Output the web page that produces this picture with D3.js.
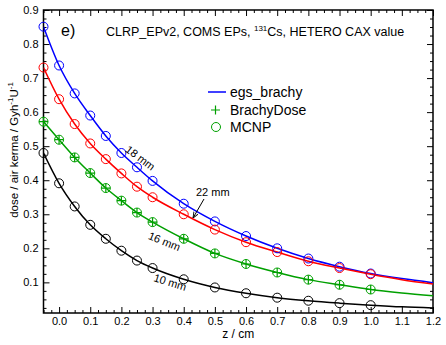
<!DOCTYPE html>
<html>
<head>
<meta charset="utf-8">
<script src="https://cdn.jsdelivr.net/npm/d3@7"></script>
<style>
  body { margin: 0; background: #fff; }
  text { font-family: "Liberation Sans", Arial, sans-serif; }
</style>
</head>
<body>
<div id="chart"></div>
<script>
// depth points (cm) for the markers
const zPoints = [-0.05, 0, 0.05, 0.1, 0.15, 0.2, 0.25, 0.3, 0.4, 0.5, 0.6, 0.7, 0.8, 0.9, 1.0];
// depth points for the egs_brachy lines (run to the end of the axis)
const zLine = [-0.05, 0, 0.05, 0.1, 0.15, 0.2, 0.25, 0.3, 0.4, 0.5, 0.6, 0.7, 0.8, 0.9, 1.0, 1.1, 1.2];

// MCNP values (circles)
const mcnp18 = [0.851, 0.737, 0.655, 0.590, 0.530, 0.480, 0.438, 0.398, 0.331, 0.279, 0.236, 0.200, 0.170, 0.146, 0.126];
const mcnp22 = [0.731, 0.638, 0.565, 0.508, 0.462, 0.420, 0.381, 0.350, 0.300, 0.255, 0.218, 0.189, 0.162, 0.142, 0.124];
const mcnp16 = [0.572, 0.519, 0.467, 0.421, 0.377, 0.340, 0.305, 0.277, 0.228, 0.185, 0.154, 0.129, 0.108, 0.093, 0.079];
const mcnp10 = [0.480, 0.391, 0.323, 0.269, 0.228, 0.193, 0.164, 0.142, 0.109, 0.085, 0.068, 0.055, 0.046, 0.039, 0.033];

// BrachyDose values (plus), only given for 16 mm
const brachyDose16 = [0.572, 0.519, 0.467, 0.421, 0.377, 0.340, 0.305, 0.277, 0.228, 0.185, 0.154, 0.129, 0.108, 0.093, 0.079];

// egs_brachy lines
const egs18 = [0.851, 0.737, 0.655, 0.590, 0.530, 0.480, 0.438, 0.398, 0.331, 0.279, 0.236, 0.200, 0.170, 0.146, 0.126, 0.111, 0.099];
const egs22 = [0.731, 0.638, 0.565, 0.508, 0.462, 0.420, 0.381, 0.350, 0.300, 0.255, 0.218, 0.189, 0.162, 0.142, 0.124, 0.108, 0.095];
const egs16 = [0.572, 0.519, 0.467, 0.421, 0.377, 0.340, 0.305, 0.277, 0.228, 0.185, 0.154, 0.129, 0.108, 0.093, 0.079, 0.069, 0.061];
const egs10 = [0.480, 0.391, 0.323, 0.269, 0.228, 0.193, 0.164, 0.142, 0.109, 0.085, 0.068, 0.055, 0.046, 0.039, 0.033, 0.028, 0.025];

const xTicks = [0.0, 0.1, 0.2, 0.3, 0.4, 0.5, 0.6, 0.7, 0.8, 0.9, 1.0, 1.1, 1.2];
const yTicks = [0.1, 0.2, 0.3, 0.4, 0.5, 0.6, 0.7, 0.8, 0.9];

const series = [
  { name: "18 mm", color: "#0000ff", egs: egs18, mcnp: mcnp18, bd: null },
  { name: "22 mm", color: "#ff0000", egs: egs22, mcnp: mcnp22, bd: null },
  { name: "16 mm", color: "#00a000", egs: egs16, mcnp: mcnp16, bd: brachyDose16 },
  { name: "10 mm", color: "#000000", egs: egs10, mcnp: mcnp10, bd: null }
];

const width = 446, height = 345;
const padLeft = 43.5, padRight = 433, padTop = 10, padBottom = 313;

const svg = d3.select("#chart").append("svg")
  .attr("width", width).attr("height", height);

const x = d3.scaleLinear().domain([-0.05, 1.2]).range([padLeft, padRight]);
const y = d3.scaleLinear().domain([0.01, 0.9]).range([padBottom, padTop]);

// minor tick values
const xMinor = d3.range(-0.05, 1.2001, 0.025).map(v => +v.toFixed(3)).filter(v => !xTicks.some(t => Math.abs(t - v) < 1e-6));
const yMinor = d3.range(0.025, 0.9001, 0.025).map(v => +v.toFixed(3)).filter(v => !yTicks.some(t => Math.abs(t - v) < 1e-6));

function styleAxis(g) {
  g.select(".domain").remove();
  g.selectAll("line").attr("stroke", "#000").attr("stroke-width", 1);
  g.selectAll("text").attr("font-size", 11).attr("fill", "#000")
    .style("font-family", "'Liberation Sans', Arial, sans-serif");
}

// bottom / top major + minor
svg.append("g").attr("transform", `translate(0,${padBottom})`)
  .call(d3.axisBottom(x).tickValues(xTicks).tickFormat(d3.format(".1f")).tickSize(-6).tickPadding(4))
  .call(styleAxis);
svg.append("g").attr("transform", `translate(0,${padBottom})`)
  .call(d3.axisBottom(x).tickValues(xMinor).tickFormat("").tickSize(-3))
  .call(styleAxis);
svg.append("g").attr("transform", `translate(0,${padTop})`)
  .call(d3.axisTop(x).tickValues(xTicks).tickFormat("").tickSize(-6))
  .call(styleAxis);
svg.append("g").attr("transform", `translate(0,${padTop})`)
  .call(d3.axisTop(x).tickValues(xMinor).tickFormat("").tickSize(-3))
  .call(styleAxis);

// left / right major + minor
svg.append("g").attr("transform", `translate(${padLeft},0)`)
  .call(d3.axisLeft(y).tickValues(yTicks).tickFormat(d3.format(".1f")).tickSize(-6).tickPadding(5))
  .call(styleAxis);
svg.append("g").attr("transform", `translate(${padLeft},0)`)
  .call(d3.axisLeft(y).tickValues(yMinor).tickFormat("").tickSize(-3))
  .call(styleAxis);
svg.append("g").attr("transform", `translate(${padRight},0)`)
  .call(d3.axisRight(y).tickValues(yTicks).tickFormat("").tickSize(-6))
  .call(styleAxis);
svg.append("g").attr("transform", `translate(${padRight},0)`)
  .call(d3.axisRight(y).tickValues(yMinor).tickFormat("").tickSize(-3))
  .call(styleAxis);

// frame
svg.append("rect")
  .attr("x", padLeft).attr("y", padTop)
  .attr("width", padRight - padLeft).attr("height", padBottom - padTop)
  .attr("fill", "none").attr("stroke", "#000").attr("stroke-width", 1.5);

// clip for the curves
svg.append("clipPath").attr("id", "plotclip")
  .append("rect").attr("x", padLeft).attr("y", padTop).attr("width", padRight - padLeft).attr("height", padBottom - padTop);

const line = d3.line()
  .x(d => x(d[0]))
  .y(d => y(d[1]))
  .curve(d3.curveMonotoneX);

const plot = svg.append("g");

// egs_brachy lines
series.forEach(s => {
  plot.append("path")
    .datum(zLine.map((z, i) => [z, s.egs[i]]))
    .attr("fill", "none")
    .attr("stroke", s.color)
    .attr("stroke-width", 1.5)
    .attr("clip-path", "url(#plotclip)")
    .attr("d", line);
});

// MCNP circles
series.forEach(s => {
  plot.selectAll(null)
    .data(zPoints.map((z, i) => [z, s.mcnp[i]]))
    .enter().append("circle")
    .attr("cx", d => x(d[0]))
    .attr("cy", d => y(d[1]))
    .attr("r", 4.5)
    .attr("fill", "none")
    .attr("stroke", s.color)
    .attr("stroke-width", 1);
});

// BrachyDose plus markers
series.filter(s => s.bd).forEach(s => {
  plot.selectAll(null)
    .data(zPoints.map((z, i) => [z, s.bd[i]]))
    .enter().append("path")
    .attr("d", d => {
      const cx = x(d[0]), cy = y(d[1]);
      return `M${cx - 4.5},${cy}H${cx + 4.5}M${cx},${cy - 4.5}V${cy + 4.5}`;
    })
    .attr("stroke", s.color)
    .attr("stroke-width", 1.2);
});

// curve labels
const labels = [
  { text: "18 mm", x: 138, y: 161, rot: 37 },
  { text: "16 mm", x: 163, y: 245, rot: 22 },
  { text: "10 mm", x: 169, y: 286, rot: 17 }
];
labels.forEach(l => {
  svg.append("text")
    .attr("transform", `translate(${l.x},${l.y}) rotate(${l.rot})`)
    .attr("text-anchor", "middle")
    .attr("font-size", 11)
    .text(l.text);
});
svg.append("text").attr("x", 196).attr("y", 196).attr("font-size", 11).text("22 mm");

// arrow for 22 mm
svg.append("defs").append("marker")
  .attr("id", "arrow").attr("viewBox", "0 0 10 10")
  .attr("refX", 10).attr("refY", 5)
  .attr("markerWidth", 6).attr("markerHeight", 6)
  .attr("orient", "auto")
  .append("path").attr("d", "M0,1L10,5L0,9").attr("fill", "none").attr("stroke", "#000").attr("stroke-width", 1.5);
svg.append("line")
  .attr("x1", 204).attr("y1", 199).attr("x2", 193).attr("y2", 218)
  .attr("stroke", "#000").attr("stroke-width", 1)
  .attr("marker-end", "url(#arrow)");

// panel letter and title
svg.append("text").attr("x", 61).attr("y", 36).attr("font-size", 16).text("e)");
const title = svg.append("text").attr("x", 106).attr("y", 36).attr("font-size", 12.5);
title.append("tspan").text("CLRP_EPv2, COMS EPs, ");
title.append("tspan").attr("font-size", 8).attr("dy", -5).text("131");
title.append("tspan").attr("dy", 5).text("Cs, HETERO CAX value");

// legend
const legendX = 208;
svg.append("line")
  .attr("x1", legendX).attr("x2", legendX + 18).attr("y1", 92).attr("y2", 92)
  .attr("stroke", "#0000ff").attr("stroke-width", 1.5);
svg.append("path")
  .attr("d", `M${legendX + 3},110H${legendX + 12}M${legendX + 7.5},105.5V114.5`)
  .attr("stroke", "#00a000").attr("stroke-width", 1.2);
svg.append("circle")
  .attr("cx", legendX + 8).attr("cy", 127).attr("r", 4.5)
  .attr("fill", "none").attr("stroke", "#00a000");
const legendNames = ["egs_brachy", "BrachyDose", "MCNP"];
legendNames.forEach((n, i) => {
  svg.append("text")
    .attr("x", 230).attr("y", 97 + i * 17.5)
    .attr("font-size", 14)
    .text(n);
});

// axis titles
svg.append("text")
  .attr("x", (padLeft + padRight) / 2).attr("y", 338)
  .attr("text-anchor", "middle").attr("font-size", 12)
  .text("z / cm");

const ylab = svg.append("text")
  .attr("transform", "translate(18,150) rotate(-90)")
  .attr("text-anchor", "middle").attr("font-size", 11.5);
ylab.append("tspan").text("dose / air kerma / Gyh");
ylab.append("tspan").attr("font-size", 8).attr("dy", -5).text("-1");
ylab.append("tspan").attr("dy", 5).text("U");
ylab.append("tspan").attr("font-size", 8).attr("dy", -5).text("-1");
</script>
</body>
</html>
